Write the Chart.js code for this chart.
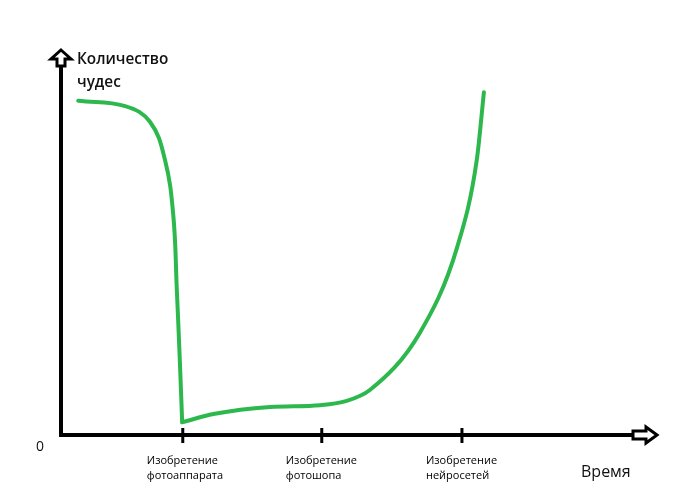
<!DOCTYPE html>
<html lang="ru">
<head>
<meta charset="utf-8">
<script src="https://cdn.jsdelivr.net/npm/chart.js@4"></script>
<style>body{margin:0;background:#fff}</style>
</head>
<body>
<canvas id="chart" width="700" height="496"></canvas>
<script>
// время (условные единицы) и количество чудес
const timeX = [2.9, 10.8, 15.0, 17.5, 18.9, 19.5, 20.0, 20.4, 25.9, 35.2, 43.6, 47.8, 52.0, 60.4, 66.7, 70.0, 71.2];
const miracles = [88.4, 87.0, 82.8, 72.8, 58.2, 38.4, 19.8, 3.4, 5.6, 7.4, 7.9, 8.9, 11.9, 27.0, 49.7, 72.8, 90.7];
const cornerIndex = 7; // изобретение фотоаппарата — излом

const tickValues = [20.5, 43.9, 67.5];
const tickLabels = [
    ['Изобретение', 'фотоаппарата'],
    ['Изобретение', 'фотошопа'],
    ['Изобретение', 'нейросетей']
];
const yTitle = ['Количество', 'чудес'];
const xTitle = 'Время';

const points = timeX.map((x, i) => ({ x, y: miracles[i] }));

// оси со стрелками, засечки и подписи осей
const axesPlugin = {
    id: 'axes',
    afterDraw(chart) {
        const { ctx, chartArea: ca, scales } = chart;
        const ox = scales.x.getPixelForValue(0);
        const oy = scales.y.getPixelForValue(0);
        ctx.save();
        ctx.strokeStyle = '#000';
        ctx.lineCap = 'butt';
        ctx.lineWidth = 4;
        ctx.beginPath();
        ctx.moveTo(ox, oy + 2);
        ctx.lineTo(ox, ca.top + 9);
        ctx.moveTo(ox - 2, oy);
        ctx.lineTo(ca.right - 22, oy);
        ctx.stroke();

        ctx.lineWidth = 3;
        tickValues.forEach(v => {
            const px = scales.x.getPixelForValue(v);
            ctx.beginPath();
            ctx.moveTo(px, oy - 7);
            ctx.lineTo(px, oy + 8);
            ctx.stroke();
        });

        // стрелка вверх
        const t = ca.top - 7;
        ctx.fillStyle = '#fff';
        ctx.lineJoin = 'miter';
        ctx.beginPath();
        ctx.moveTo(ox, t);
        ctx.lineTo(ox + 10, t + 9);
        ctx.lineTo(ox + 4, t + 9);
        ctx.lineTo(ox + 4, t + 16);
        ctx.lineTo(ox - 4, t + 16);
        ctx.lineTo(ox - 4, t + 9);
        ctx.lineTo(ox - 10, t + 9);
        ctx.closePath();
        ctx.fill();
        ctx.stroke();

        // стрелка вправо
        const r = ca.right + 2;
        ctx.beginPath();
        ctx.moveTo(r, oy);
        ctx.lineTo(r - 11, oy - 8);
        ctx.lineTo(r - 11, oy - 4);
        ctx.lineTo(r - 24, oy - 4);
        ctx.lineTo(r - 24, oy + 4);
        ctx.lineTo(r - 11, oy + 4);
        ctx.lineTo(r - 11, oy + 8);
        ctx.closePath();
        ctx.fill();
        ctx.stroke();

        ctx.fillStyle = '#111';
        ctx.textBaseline = 'middle';
        ctx.textAlign = 'left';
        ctx.font = '600 15.3px "Open Sans"';
        ctx.fillText(yTitle[0], ox + 16, ca.top + 3);
        ctx.fillText(yTitle[1], ox + 16, ca.top + 26);
        ctx.font = '16px "Open Sans"';
        ctx.fillText(xTitle, 581, 472);
        ctx.restore();
    }
};

const lineStyle = {
    borderColor: '#2db84d',
    borderWidth: 4,
    borderCapStyle: 'round',
    borderJoinStyle: 'round',
    pointRadius: 0,
    fill: false
};

new Chart(document.getElementById('chart'), {
    type: 'line',
    data: {
        datasets: [
            { ...lineStyle, tension: 0.4, data: points.slice(0, cornerIndex + 1) },
            { ...lineStyle, cubicInterpolationMode: 'monotone', data: points.slice(cornerIndex) }
        ]
    },
    options: {
        responsive: false,
        animation: false,
        layout: { padding: { top: 57, right: 45, left: 0, bottom: 0 } },
        plugins: { legend: { display: false }, tooltip: { enabled: false } },
        scales: {
            x: {
                type: 'linear', min: 0, max: 100,
                grid: { display: false },
                border: { display: false },
                afterBuildTicks: s => { s.ticks = tickValues.map(v => ({ value: v })); },
                afterFit: s => { s.height = 61; },
                ticks: {
                    autoSkip: false, maxRotation: 0, minRotation: 0,
                    align: 'start', labelOffset: -36, padding: 10,
                    color: '#000',
                    font: { family: 'Open Sans', size: 11, lineHeight: 1.36 },
                    callback: (v, i) => tickLabels[i]
                }
            },
            y: {
                min: 0, max: 100,
                grid: { display: false },
                border: { display: false },
                afterBuildTicks: s => { s.ticks = [{ value: 0 }]; },
                afterFit: s => { s.width = 61; },
                ticks: {
                    padding: 9, labelOffset: 12, color: '#111',
                    font: { family: 'Open Sans', size: 14 },
                    callback: () => '0'
                }
            }
        }
    },
    plugins: [axesPlugin]
});
</script>
</body>
</html>
